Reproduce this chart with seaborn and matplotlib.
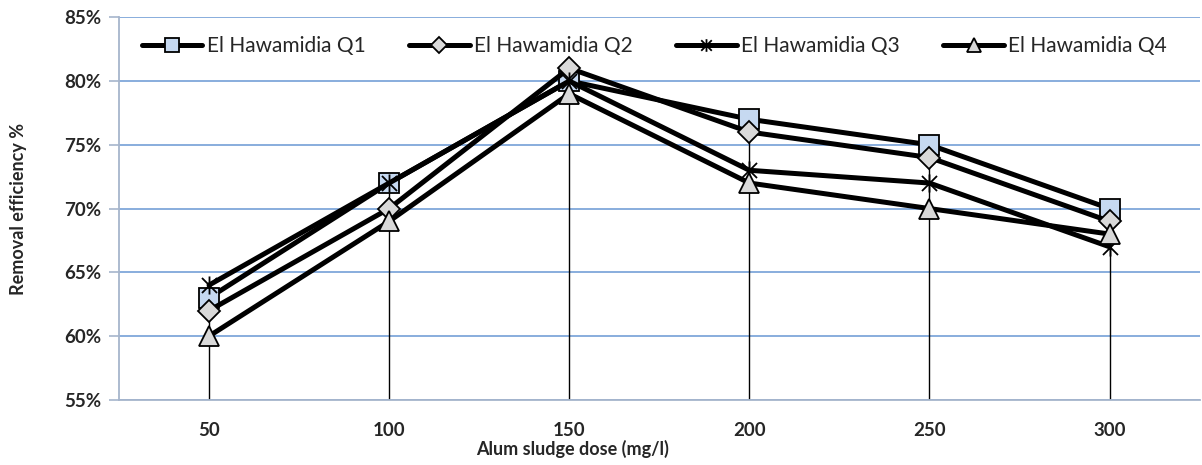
import matplotlib
matplotlib.use("Agg")
import matplotlib.pyplot as plt
from matplotlib.path import Path
from matplotlib.ticker import FuncFormatter
import seaborn as sns
import pandas as pd

# data
doses = [50, 100, 150, 200, 250, 300]
q1 = [63, 72, 80, 77, 75, 70]
q2 = [62, 70, 81, 76, 74, 69]
q3 = [64, 72, 80, 73, 72, 67]
q4 = [60, 69, 79, 72, 70, 68]
series_names = ["El Hawamidia Q1", "El Hawamidia Q2", "El Hawamidia Q3", "El Hawamidia Q4"]
y_ticks = [55, 60, 65, 70, 75, 80, 85]

sns.set_theme(style="white")
plt.rcParams["font.family"] = ["Lato", "DejaVu Sans"]

# excel style star: an X with a vertical bar
star = Path([(-1, -1), (1, 1), (-1, 1), (1, -1), (0, -1.2), (0, 1.2)],
            [Path.MOVETO, Path.LINETO, Path.MOVETO, Path.LINETO, Path.MOVETO, Path.LINETO])

styles = [
    dict(marker="s", markerfacecolor="#C6D9F1", markersize=14),
    dict(marker="D", markerfacecolor="#D9D9D9", markersize=11),
    dict(marker=star, markerfacecolor="none", markersize=13),
    dict(marker="^", markerfacecolor="#D9D9D9", markersize=15),
]

pos = list(range(len(doses)))
df = pd.DataFrame({"pos": pos, "dose": doses, "Q1": q1, "Q2": q2, "Q3": q3, "Q4": q4})

fig = plt.figure(figsize=(12.02, 4.65), dpi=100)
ax = fig.add_axes([0.099, 0.14, 0.899, 0.823])

# drop lines from the highest point to the axis
tops = df[["Q1", "Q2", "Q3", "Q4"]].max(axis=1)
ax.vlines(df["pos"], 55, tops, color="black", lw=1.0, zorder=2)

for col, name, st in zip(["Q1", "Q2", "Q3", "Q4"], series_names, styles):
    sns.lineplot(data=df, x="pos", y=col, ax=ax, color="black", lw=3.6,
                 markeredgecolor="black", markeredgewidth=1.3, label=name,
                 zorder=3, **st)

ax.set_xlim(-0.5, 5.5)
ax.set_ylim(55, 85)
ax.set_yticks(y_ticks)
ax.yaxis.set_major_formatter(FuncFormatter(lambda v, p: f"{v:.0f}%"))
ax.set_xticks(pos)
ax.set_xticklabels([str(d) for d in doses])
for lab in ax.get_xticklabels() + ax.get_yticklabels():
    lab.set_fontweight("bold")
    lab.set_fontsize(13.5)
ax.tick_params(axis="y", length=7, width=1.2, color="#A6B5CC", pad=6, left=True)
ax.tick_params(axis="x", length=0, pad=16)

ax.grid(axis="y", color="#7FA7DA", lw=1.3)
ax.set_axisbelow(True)
for s in ["top", "right"]:
    ax.spines[s].set_visible(False)
for s in ["left", "bottom"]:
    ax.spines[s].set_color("#A6B5CC")
    ax.spines[s].set_linewidth(1.3)

ax.set_xlabel("Alum sludge dose (mg/l)", fontsize=13, fontweight="bold")
ax.xaxis.set_label_coords(0.42, -0.105)
ax.set_ylabel("Removal efficiency %", fontsize=13, fontweight="bold")
ax.yaxis.set_label_coords(-0.085, 0.5)

ax.legend(loc="upper left", bbox_to_anchor=(0.004, 1.0), ncol=4, frameon=False,
          fontsize=15, handlelength=2.9, handletextpad=0.2, columnspacing=2.1,
          markerscale=0.7)

fig.savefig("out.png", dpi=100)
